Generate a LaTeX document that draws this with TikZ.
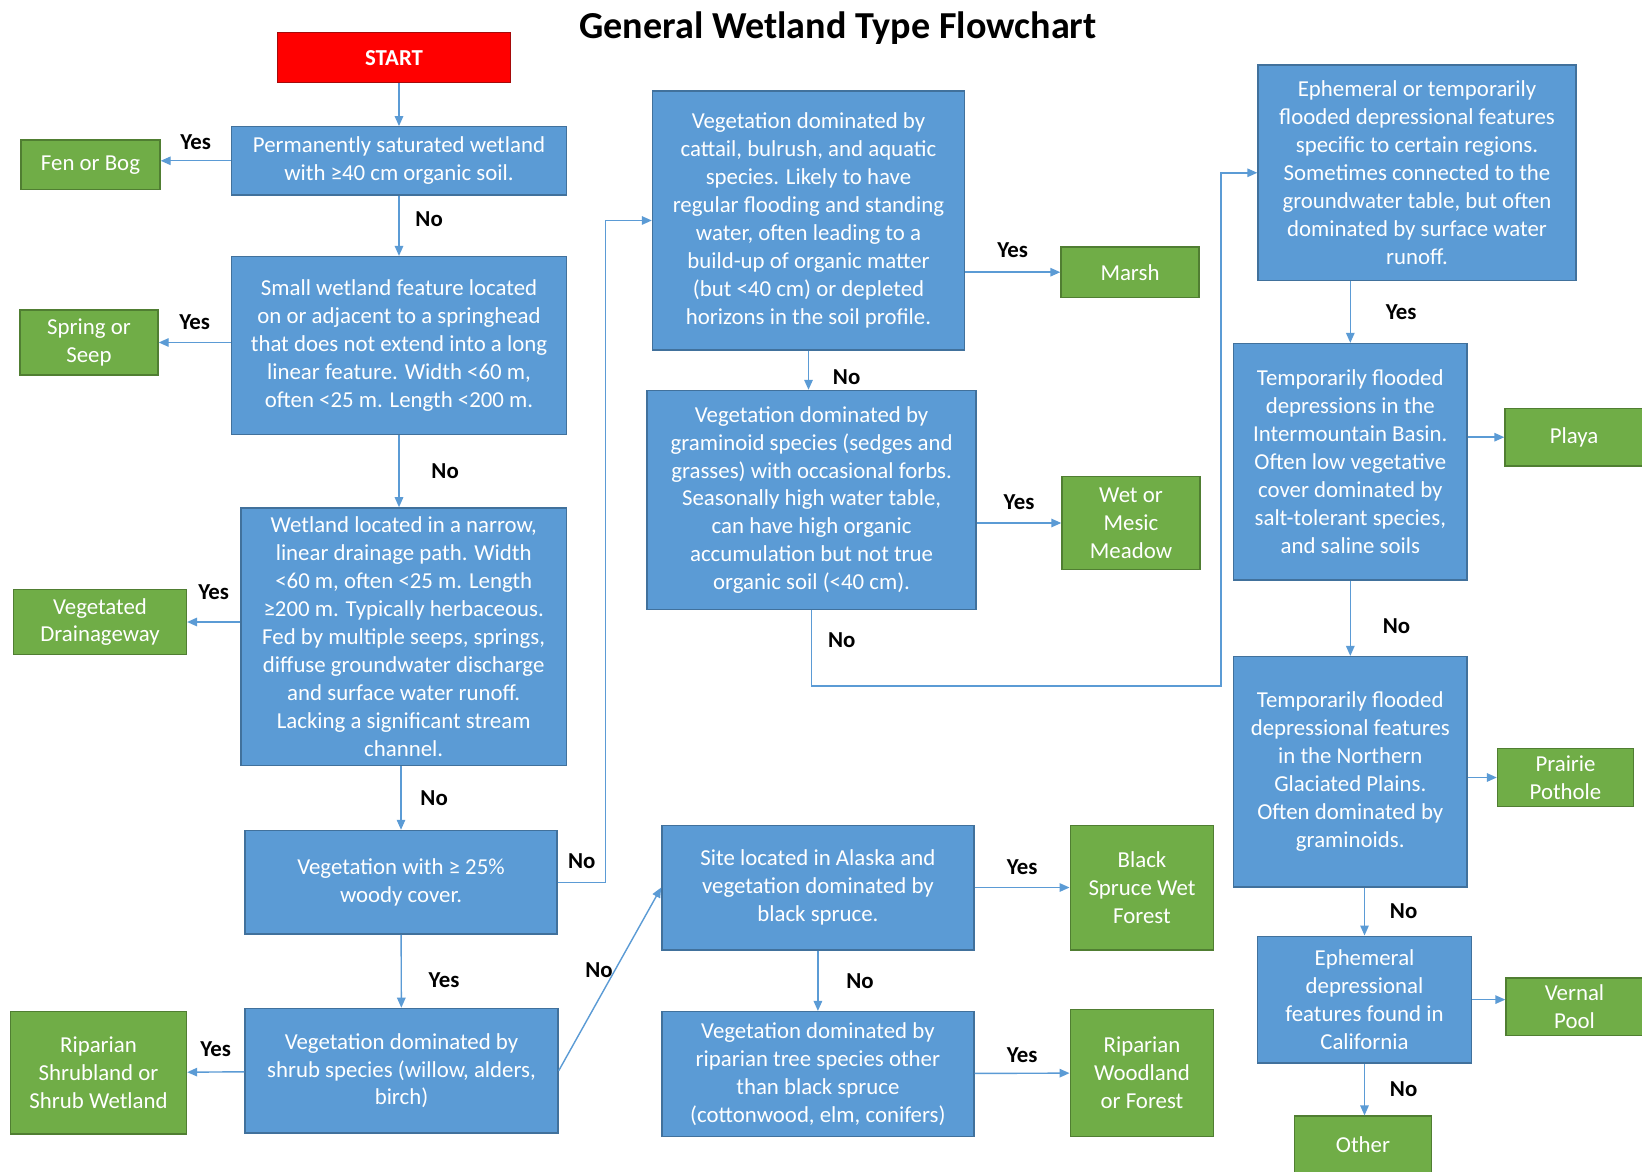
\documentclass[tikz,border=0pt]{standalone}
\usepackage{fontspec}
\setmainfont{Carlito}
\usepackage{xcolor}
\usetikzlibrary{arrows.meta,positioning}

\definecolor{qblue}{HTML}{5B9BD5}
\definecolor{qedge}{HTML}{41719C}
\definecolor{egreen}{HTML}{70AD47}
\definecolor{eedge}{HTML}{507E32}
\definecolor{sred}{HTML}{FF0000}
\definecolor{sedge}{HTML}{A50A0A}

\begin{document}
\begin{tikzpicture}[
  x=0.02cm, y=-0.02cm,
  wh/.style 2 args={minimum width=#1*0.02cm, minimum height=#2*0.02cm},
  qbox/.style={draw=qedge, fill=qblue, line width=0.8pt, text=white, align=center,
    inner sep=2pt, font=\fontsize{13}{15.9}\selectfont},
  endbox/.style={qbox, draw=eedge, fill=egreen},
  startbox/.style={qbox, draw=sedge, fill=sred, font=\fontsize{13}{15.9}\selectfont\bfseries},
  lbl/.style={inner sep=1pt, font=\fontsize{13}{15.9}\selectfont\bfseries},
  arr/.style={-{Triangle[length=0.2cm,width=0.17cm]}, draw=qblue, line width=0.8pt}
]
\path[use as bounding box, fill=white] (0,0) rectangle (1642,1172);

\node[font=\fontsize{21.7}{26}\selectfont\bfseries] (title) at (838,28) {General Wetland Type Flowchart};

\node[startbox, wh={232.5}{50}] (start) at (394,57.6) {START};

% left column
\node[qbox, wh={335}{68}] (q1) at (399,160.8) {Permanently saturated wetland\\with ≥40 cm organic soil.};
\node[endbox, wh={139}{49.5}] (fen) at (90.5,164.8) {Fen or Bog};

\node[qbox, wh={335}{178}] (q2) at (399,345.6) {Small wetland feature located\\on or adjacent to a springhead\\that does not extend into a long\\linear feature. Width <60 m,\\often <25 m. Length <200 m.};
\node[endbox, wh={138}{65}] (spring) at (89,342.5) {Spring or\\Seep};

\node[qbox, wh={325.6}{257.6}] (q3) at (403.7,636.7) {Wetland located in a narrow,\\linear drainage path. Width\\<60 m, often <25 m. Length\\≥200 m. Typically herbaceous.\\Fed by multiple seeps, springs,\\diffuse groundwater discharge\\and surface water runoff.\\Lacking a significant stream\\channel.};
\node[endbox, wh={172.8}{65}] (drain) at (100,622) {Vegetated\\Drainageway};

\node[qbox, wh={312}{103.7}] (q4) at (401,882.3) {Vegetation with ≥ 25\%\\woody cover.};

\node[qbox, wh={313}{124.6}] (q5) at (401.5,1070.7) {Vegetation dominated by\\shrub species (willow, alders,\\birch)};
\node[endbox, wh={176}{122.4}] (shrub) at (98.5,1072.8) {Riparian\\Shrubland or\\Shrub Wetland};

% middle column
\node[qbox, wh={312}{258.7}] (q6) at (808.5,220.5) {Vegetation dominated by\\cattail, bulrush, and aquatic\\species. Likely to have\\regular flooding and standing\\water, often leading to a\\build-up of organic matter\\(but <40 cm) or depleted\\horizons in the soil profile.};
\node[endbox, wh={138}{50.4}] (marsh) at (1130,272.2) {Marsh};

\node[qbox, wh={329}{219}] (q7) at (811.6,500) {Vegetation dominated by\\graminoid species (sedges and\\grasses) with occasional forbs.\\Seasonally high water table,\\can have high organic\\accumulation but not true\\organic soil (<40 cm).};
\node[endbox, wh={138}{93}] (meadow) at (1131,523) {Wet or\\Mesic\\Meadow};

\node[qbox, wh={312}{124.6}] (q12) at (817.9,887.5) {Site located in Alaska and\\vegetation dominated by\\black spruce.};
\node[endbox, wh={143.5}{124.6}] (spruce) at (1142,887.5) {Black\\Spruce Wet\\Forest};

\node[qbox, wh={312}{124.6}] (q13) at (817.9,1073.9) {Vegetation dominated by\\riparian tree species other\\than black spruce\\(cottonwood, elm, conifers)};
\node[endbox, wh={143.5}{126.7}] (woodland) at (1142,1072.9) {Riparian\\Woodland\\or Forest};

% right column
\node[qbox, wh={318}{215.6}] (q8) at (1417,172.8) {Ephemeral or temporarily\\flooded depressional features\\specific to certain regions.\\Sometimes connected to the\\groundwater table, but often\\dominated by surface water\\runoff.};

\node[qbox, wh={233.4}{236.5}] (q9) at (1350.3,461.8) {Temporarily flooded\\depressions in the\\Intermountain Basin.\\Often low vegetative\\cover dominated by\\salt-tolerant species,\\and saline soils};
\node[endbox, wh={138}{57.6}] (playa) at (1574,437.2) {Playa};

\node[qbox, wh={233.4}{230.4}] (q10) at (1350.3,771.8) {Temporarily flooded\\depressional features\\in the Northern\\Glaciated Plains.\\Often dominated by\\graminoids.};
\node[endbox, wh={136}{57.7}] (prairie) at (1565.5,777.5) {Prairie\\Pothole};

\node[qbox, wh={213.6}{126.8}] (q11) at (1364.5,999.6) {Ephemeral\\depressional\\features found in\\California};
\node[endbox, wh={137}{57.7}] (vernal) at (1574.5,1006.9) {Vernal\\Pool};

\node[endbox, wh={137}{57}] (other) at (1363,1144.6) {Other};

\coordinate (loop) at (1221,686);

% connectors
\draw[arr] (q1.north|-start.south) -- (q1.north);
\draw[arr] (q1.west) -- node[lbl, above=0.18cm] {Yes} (q1.west-|fen.east);
\draw[arr] (q1) -- node[lbl, right=0.28cm, pos=0.4] {No} (q2);
\draw[arr] (q2.west|-spring) -- node[lbl, above=0.2cm] {Yes} (spring);
\draw[arr] (q2.south) -- node[lbl, right=0.6cm] {No} (q2.south|-q3.north);
\draw[arr] (q3.west|-drain) -- node[lbl, above=0.4cm] {Yes} (drain);
\draw[arr] (q4.north|-q3.south) -- node[lbl, right=0.34cm] {No} (q4.north);
\draw[arr] (q4) -- node[lbl, right=0.5cm, pos=0.62] {Yes} (q5);
\draw[arr] (q5) -- node[lbl, above=0.25cm] {Yes} (shrub);
\draw[arr] (q4.east) -- node[lbl, above=0.22cm] {No} ++(48,0) |- (q6.west);
\draw[arr] (q5.east) -- node[lbl, left=0cm, pos=0.55] {No} (q12.west);

\draw[arr] (q6.east|-marsh) -- node[lbl, above=0.25cm] {Yes} (marsh);
\draw[arr] (q6) -- node[lbl, right=0.44cm, pos=0.68] {No} (q6|-q7.north);
\draw[arr] (q7.east|-meadow) -- node[lbl, above=0.22cm] {Yes} (meadow);
\draw[arr] (q7.south) |- node[lbl, right=0.28cm, pos=0.2] {No} (loop) |- (q8.west);
\draw[arr] (q12) -- node[lbl, above=0.2cm] {Yes} (spruce);
\draw[arr] (q12) -- node[lbl, right=0.52cm] {No} (q13);
\draw[arr] (q13) -- node[lbl, above=0.16cm] {Yes} (woodland);

\draw[arr] (q8.south-|q9.north) -- node[lbl, right=0.66cm] {Yes} (q9.north);
\draw[arr] (q9.east|-playa) -- (playa);
\draw[arr] (q9) -- node[lbl, right=0.6cm, pos=0.6] {No} (q9|-q10.north);
\draw[arr] (q10.east|-prairie) -- (prairie);
\draw[arr] (q10.south-|q11.north) -- node[lbl, right=0.46cm] {No} (q11.north);
\draw[arr] (q11.east) -- (q11.east-|vernal.west);
\draw[arr] (q11.south) -- node[lbl, right=0.46cm] {No} (q11.south|-other.north);
\end{tikzpicture}
\end{document}
